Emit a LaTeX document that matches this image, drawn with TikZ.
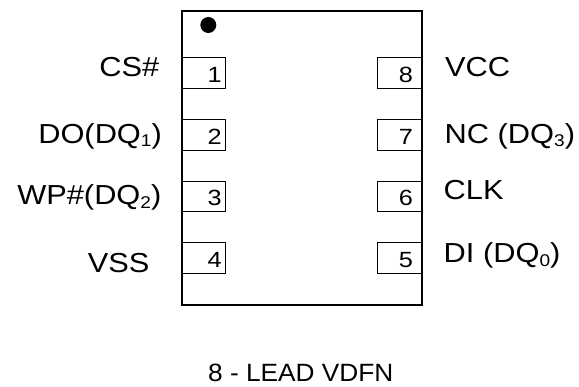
\documentclass[tikz,border=0pt]{standalone}
\usepackage{fontspec}
\setmainfont{Liberation Sans}
\newfontfamily\labfont[FakeStretch=1.12]{Liberation Sans}
\newfontfamily\numfont[FakeStretch=1.15]{Liberation Sans}
\newfontfamily\capfont[FakeStretch=1.05]{Liberation Sans}
\newcommand{\dqsub}[1]{\raisebox{-3.4pt}{\fontsize{17}{17}\selectfont #1}}
\begin{document}
\begin{tikzpicture}[x=1pt,y=-1pt,
  pinbox/.style={draw,line width=1pt,minimum width=43.7pt,minimum height=30.7pt,inner sep=0pt},
  lab/.style={inner sep=0pt,font=\labfont\fontsize{27.5}{27.5}\selectfont},
  num/.style={inner sep=0pt,anchor=base east,font=\numfont\fontsize{22}{22}\selectfont}]
\useasboundingbox (0,0) rectangle (579,387);
\node[draw,line width=1.2pt,minimum width=240pt,minimum height=294pt,inner sep=0pt] (chip) at (302,158) {};
\fill (208.3,25) circle (8);
% left pins
\foreach \k/\n in {1/1,2/2,3/3,4/4}{
  \node[pinbox] (p\n) at (203.85,{73+61.7*(\k-1)}) {};
  \node[num] (n\n) at ([xshift=-4.3pt,yshift=6.4pt]p\n.south east) {\n};
}
% right pins
\foreach \k/\n in {1/8,2/7,3/6,4/5}{
  \node[pinbox] (p\n) at (399.7,{73+61.7*(\k-1)}) {};
  \node[num] (n\n) at ([xshift=-9pt,yshift=6.4pt]p\n.south east) {\n};
}
% left labels
\node[lab,anchor=base east] (l1) at (159.5,76.7) {CS\#};
\node[lab,anchor=base east] (l2) at (162,143.3) {DO(DQ\dqsub{1})};
\node[lab,anchor=base east] (l3) at (161.5,205) {WP\#(DQ\dqsub{2})};
\node[lab,anchor=base east] (l4) at (149.7,272.3) {VSS};
% right labels
\node[lab,anchor=base west] (l8) at (445,77) {VCC};
\node[lab,anchor=base west] (l7) at (444.5,143.3) {NC (DQ\dqsub{3})};
\node[lab,anchor=base west] (l6) at (443.5,199.5) {CLK};
\node[lab,anchor=base west] (l5) at (443.5,263) {DI (DQ\dqsub{0})};
% caption
\node[inner sep=0pt,anchor=base,font=\capfont\fontsize{25}{25}\selectfont] (cap) at (300.8,381.7) {8 - LEAD VDFN};
\end{tikzpicture}
\end{document}
